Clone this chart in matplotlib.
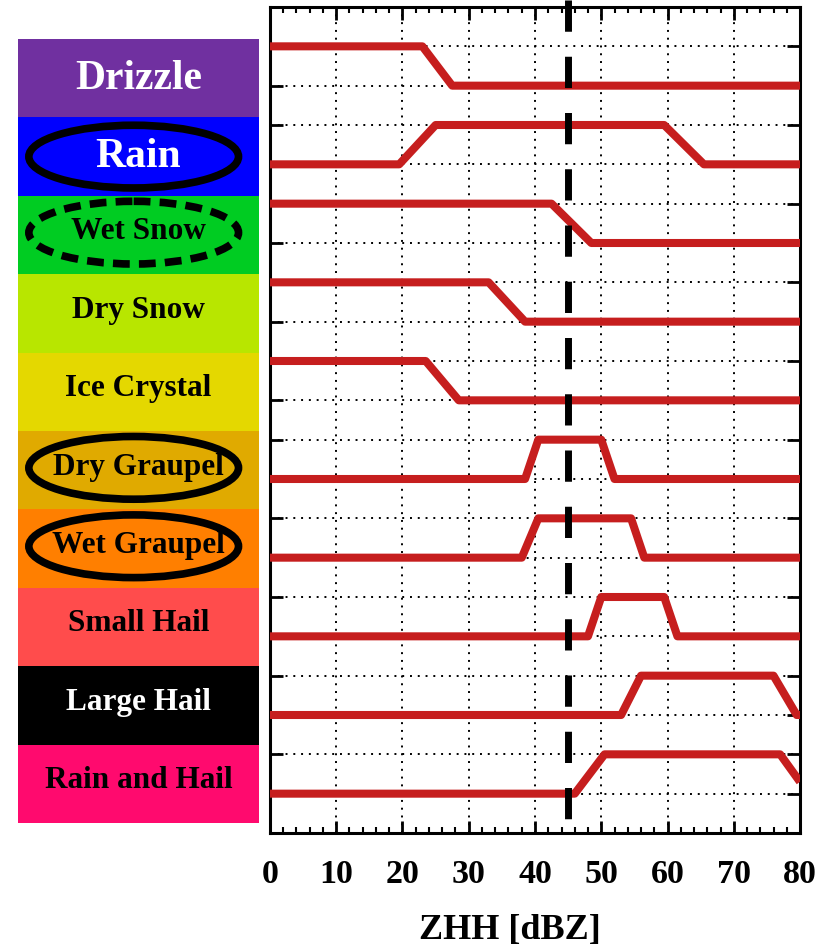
import matplotlib
matplotlib.use('Agg')
import matplotlib.pyplot as plt
from matplotlib.patches import Ellipse
from matplotlib.ticker import MultipleLocator

# hydrometeor classes, top to bottom
classes = ['Drizzle', 'Rain', 'Wet Snow', 'Dry Snow', 'Ice Crystal',
           'Dry Graupel', 'Wet Graupel', 'Small Hail', 'Large Hail', 'Rain and Hail']
box_colors = ['#7030A0', '#0000FF', '#00CC22', '#B8E600', '#E4D800',
              '#E0AA00', '#FF7F00', '#FF4C4C', '#000000', '#FF0A6E']
text_colors = ['white', 'white', 'black', 'black', 'black',
               'black', 'black', 'black', 'white', 'black']
circled = [None, 'solid', 'dashed', None, None, 'solid', 'solid', None, None, None]

# membership function breakpoints over ZHH (dBZ)
drizzle_x = [0, 23, 27.5, 80]
drizzle_m = [1, 1, 0, 0]
rain_x = [0, 19.5, 25, 59.5, 65.5, 80]
rain_m = [0, 0, 1, 1, 0, 0]
wet_snow_x = [0, 42.5, 48.5, 80]
wet_snow_m = [1, 1, 0, 0]
dry_snow_x = [0, 33, 38.5, 80]
dry_snow_m = [1, 1, 0, 0]
ice_x = [0, 23.5, 28.5, 80]
ice_m = [1, 1, 0, 0]
dry_graupel_x = [0, 38.5, 40.5, 50, 52, 80]
dry_graupel_m = [0, 0, 1, 1, 0, 0]
wet_graupel_x = [0, 38, 40.5, 54.5, 56.5, 80]
wet_graupel_m = [0, 0, 1, 1, 0, 0]
small_hail_x = [0, 48, 50, 59.5, 61.5, 80]
small_hail_m = [0, 0, 1, 1, 0, 0]
large_hail_x = [0, 53, 56, 76, 79.5, 80]
large_hail_m = [0, 0, 1, 1, 0, 0]
rain_hail_x = [0, 46, 50.5, 77, 80]
rain_hail_m = [0, 0, 1, 1, 0.3]

curves = [(drizzle_x, drizzle_m), (rain_x, rain_m), (wet_snow_x, wet_snow_m),
          (dry_snow_x, dry_snow_m), (ice_x, ice_m), (dry_graupel_x, dry_graupel_m),
          (wet_graupel_x, wet_graupel_m), (small_hail_x, small_hail_m),
          (large_hail_x, large_hail_m), (rain_hail_x, rain_hail_m)]

zhh_threshold = 45
xticks = [0, 10, 20, 30, 40, 50, 60, 70, 80]

W, H = 837, 949
fig = plt.figure(figsize=(W / 100, H / 100), dpi=100)
serif = ['Liberation Serif', 'DejaVu Serif']

# class boxes on the left
axl = fig.add_axes([18 / W, 1 - 823 / H, 241 / W, 784 / H])
n = len(classes)
axl.barh([i + 0.5 for i in range(n)], [1] * n, height=1, left=0, color=box_colors)
axl.set_xlim(0, 1)
axl.set_ylim(n, 0)
axl.axis('off')
for i, name in enumerate(classes):
    big = i < 2
    axl.text(0.5, i + (0.51 if big else 0.46), name, ha='center', va='center',
             fontsize=30 if big else 22.5, fontweight='bold', family=serif,
             color=text_colors[i])
    if circled[i]:
        e = Ellipse((0.48, i + (0.5 if big else 0.47)), 0.87, 0.8, fill=False,
                    ec='black', lw=5.5, ls=circled[i])
        if circled[i] == 'dashed':
            e.set_linestyle((0, (2.2, 1.2)))
        axl.add_patch(e)

# membership functions
ax = fig.add_axes([270 / W, 1 - 833 / H, 530 / W, 826 / H])
for i, (xs, ms) in enumerate(curves):
    base = 2 * (n - 1 - i) + 1
    ax.plot(xs, [base + m for m in ms], color='#C61E1E', lw=5.8,
            solid_joinstyle='round', solid_capstyle='butt', zorder=3)

ax.plot([zhh_threshold, zhh_threshold], [21.18, 0.33], color='black', lw=5,
        dashes=(4.5, 3.6), dash_capstyle='butt', clip_on=False, zorder=4)

ax.set_xlim(0, 80)
ax.set_ylim(0, 21)
ax.set_xticks(xticks)
ax.xaxis.set_minor_locator(MultipleLocator(2))
ax.set_yticks(range(1, 21))
ax.set_yticklabels([])
ax.set_xticklabels([str(t) for t in xticks], fontsize=24.5, fontweight='heavy',
                   family=serif)
ax.tick_params(axis='x', which='major', direction='in', top=True, length=9,
               width=2, pad=19)
ax.tick_params(axis='x', which='minor', direction='in', top=True, length=4.5,
               width=1.5)
ax.tick_params(axis='y', direction='in', right=True, length=9.5, width=2)
ax.grid(True, which='major', color='black', lw=1.4, ls=(0, (1, 3)))
for s in ax.spines.values():
    s.set_linewidth(2.2)

fig.text(510 / W, 1 - 930 / H, 'ZHH [dBZ]', ha='center', va='center',
         fontsize=26, fontweight='bold', family=serif)

fig.savefig('out.png', dpi=100, facecolor='white')
